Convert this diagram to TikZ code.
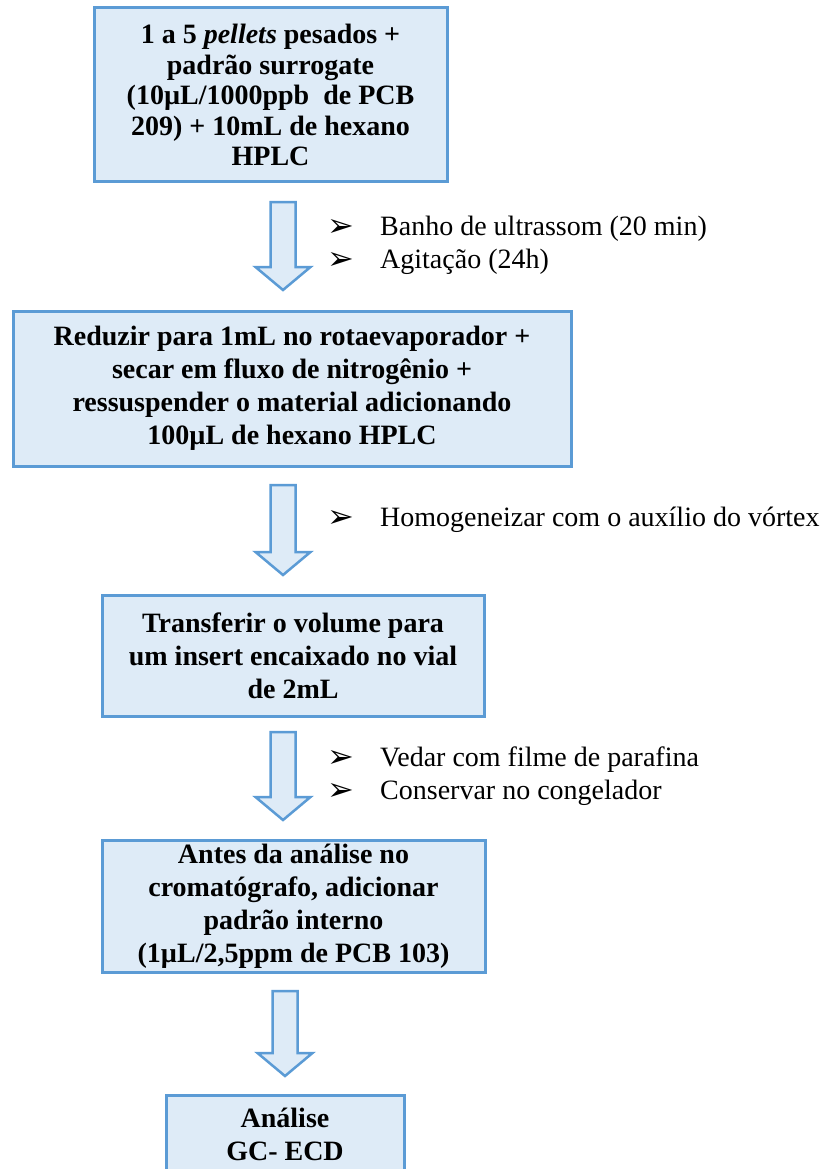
\documentclass[tikz,border=0pt]{standalone}
\usepackage{fontspec}
\setmainfont{Liberation Serif}
\newfontfamily\simbolos{DejaVu Sans}
\usetikzlibrary{calc}

\definecolor{azulborda}{RGB}{91,155,213}
\definecolor{azulfundo}{RGB}{222,235,247}

\tikzset{
  etapa/.style={draw=azulborda, fill=azulfundo, line width=3pt, align=center,
    inner sep=0pt, font=\fontsize{28}{33}\selectfont\bfseries},
  seta/.style={draw=azulborda, fill=azulfundo, line width=2.5pt, line join=miter},
  obs/.style={anchor=west, align=left, inner sep=0pt,
    font=\fontsize{28}{33}\selectfont}
}

% marcador das observacoes
\newcommand{\marca}{\makebox[53pt][l]{\smash{\raisebox{-1pt}{\simbolos\fontsize{32}{32}\selectfont ➢}}}}

% seta de bloco: #1 topo, #2 ponta
\newcommand{\setabaixo}[2]{%
  \draw[seta] ($(#1)+(-12.5,0)$) -- ($(#2)+(-12.5,-23)$) -- ($(#2)+(-27.5,-23)$)
    -- (#2) -- ($(#2)+(27.5,-23)$) -- ($(#2)+(12.5,-23)$) -- ($(#1)+(12.5,0)$) -- cycle;}

\begin{document}
\begin{tikzpicture}[x=1pt,y=-1pt]

  \useasboundingbox (0,0) rectangle (835,1169);

  % etapas do procedimento
  \node[etapa, minimum width=353pt, minimum height=174pt,
    font=\fontsize{28}{30.5}\selectfont\bfseries] (e1) at (270.5,95)
    {1 a 5 \textit{pellets} pesados +\\ padrão surrogate\\ (10µL/1000ppb\ \ de PCB\\ 209) + 10mL de hexano\\ HPLC};

  \node[etapa, minimum width=558pt, minimum height=155pt] (e2) at (292,388.5)
    {Reduzir para 1mL no rotaevaporador +\\ secar em fluxo de nitrogênio +\\ ressuspender o material adicionando\\ 100µL de hexano HPLC};

  \node[etapa, minimum width=382pt, minimum height=121pt] (e3) at (293,655.5)
    {Transferir o volume para\\ um insert encaixado no vial\\ de 2mL};

  \node[etapa, minimum width=383pt, minimum height=132pt] (e4) at (293.5,906)
    {Antes da análise no\\ cromatógrafo, adicionar\\ padrão interno\\ (1µL/2,5ppm de PCB 103)};

  \node[etapa, minimum width=238pt, minimum height=78pt] (e5) at (285,1134)
    {Análise\\ GC- ECD};

  % setas entre as etapas
  \coordinate (s1) at (283,202);  \coordinate (p1) at (283,290);
  \coordinate (s2) at (283,485);  \coordinate (p2) at (283,575);
  \coordinate (s3) at (283,732);  \coordinate (p3) at (283,820);
  \coordinate (s4) at (285,991);  \coordinate (p4) at (285,1076);

  \setabaixo{s1}{p1}
  \setabaixo{s2}{p2}
  \setabaixo{s3}{p3}
  \setabaixo{s4}{p4}

  % observacoes ao lado das setas
  \node[obs] (o1) at (327,245) {\marca Banho de ultrassom (20 min)\\ \marca Agitação (24h)};
  \node[obs] (o2) at (327,520) {\marca Homogeneizar com o auxílio do vórtex};
  \node[obs] (o3) at (327,776.5) {\marca Vedar com filme de parafina\\ \marca Conservar no congelador};

\end{tikzpicture}
\end{document}
